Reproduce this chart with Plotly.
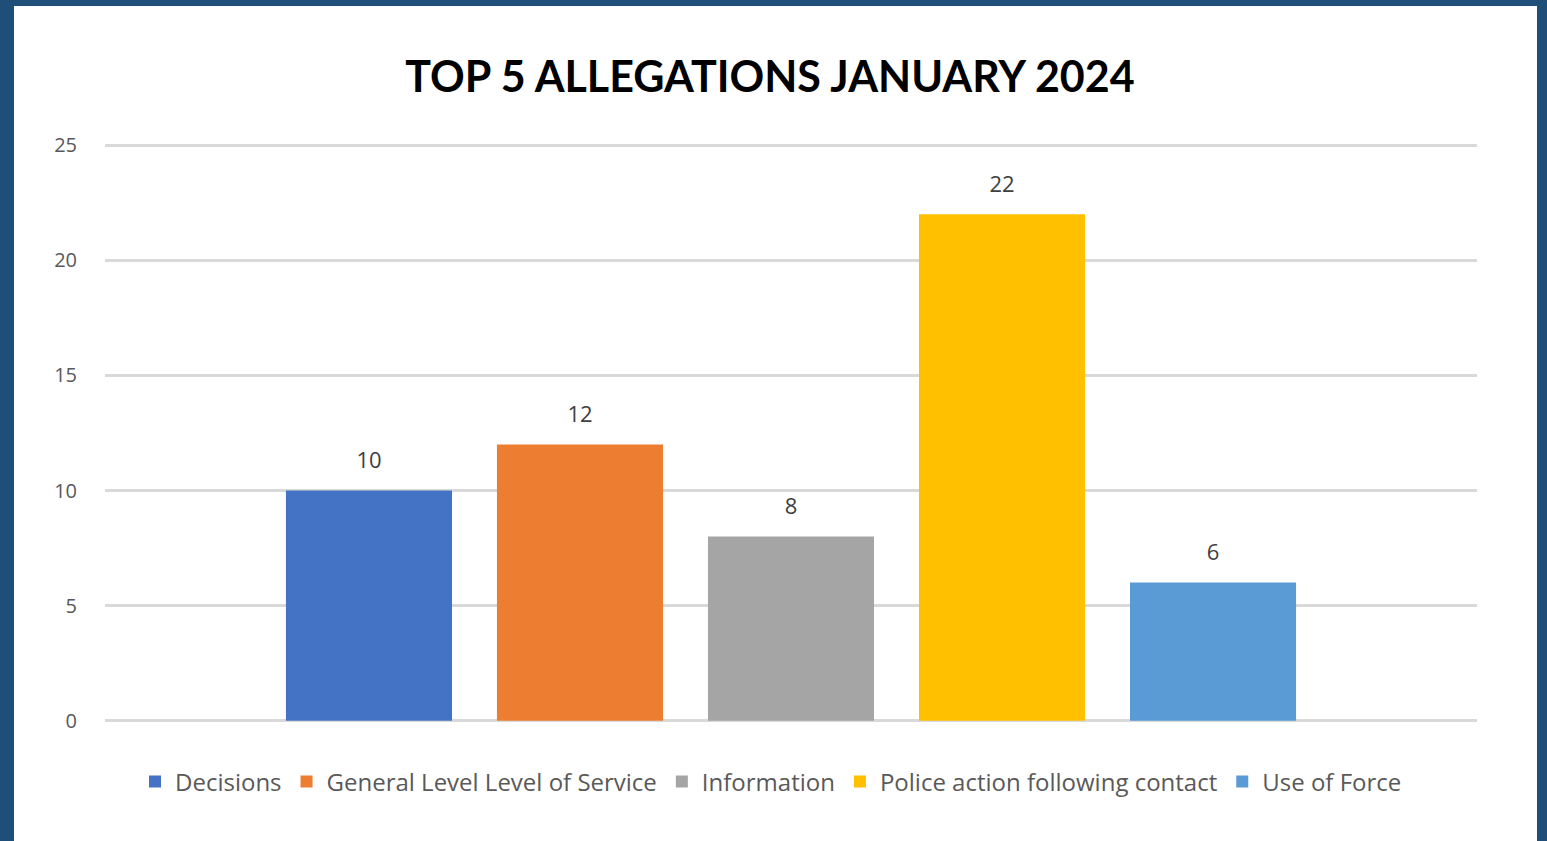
import plotly.graph_objects as go

series = ["Decisions", "General Level Level of Service", "Information",
          "Police action following contact", "Use of Force"]
values = [10, 12, 8, 22, 6]
colors = ["#4472C4", "#ED7D31", "#A5A5A5", "#FFC000", "#5B9BD5"]
category = ["Jan 2024"]
title = "TOP 5 ALLEGATIONS JANUARY 2024"
y_ticks = [0, 5, 10, 15, 20, 25]

TFONT = "Lato, Carlito, Calibri, sans-serif"
FONT = "Open Sans, sans-serif"

fig = go.Figure()
for i, (name, v, c) in enumerate(zip(series, values, colors)):
    fig.add_trace(go.Bar(
        x=category, y=[v], name=name, offsetgroup=str(i),
        marker=dict(color=c, line=dict(width=0)),
        hoverinfo="name+y",
    ))
for i, (name, v) in enumerate(zip(series, values)):
    fig.add_trace(go.Scatter(
        x=category, y=[v], offsetgroup=str(i), mode="markers+text",
        marker=dict(size=25, opacity=0), text=[str(v)],
        textposition="top center", showlegend=False, hoverinfo="skip",
        textfont=dict(size=22, color="#404040", family=FONT),
        cliponaxis=False,
    ))

W, H = 1547, 841
L, R, T, B = 105, 70, 143, 118
pw, ph = W - L - R, H - T - B

def px_x(p):
    return (p - L) / pw

def px_y(p):
    return (H - B - p) / ph

fig.update_layout(
    width=W, height=H, autosize=False,
    margin=dict(l=L, r=R, t=T, b=B),
    paper_bgcolor="#1F4E79",
    plot_bgcolor="white",
    barmode="group",
    scattermode="group",
    bargap=0.231,
    scattergap=0.231,
    bargroupgap=0.213,
    title=dict(text="<b>" + title + "</b>", x=770 / W,
               xanchor="center", y=1 - 77 / H, yanchor="middle",
               font=dict(size=43, color="#000000", family=TFONT)),
    font=dict(family=FONT, color="#595959"),
    showlegend=True,
    legend=dict(orientation="h", x=px_x(771), xanchor="center", y=px_y(782),
                yanchor="middle", bgcolor="white",
                font=dict(size=24, color="#595959", family=FONT),
                itemsizing="constant", traceorder="normal"),
    xaxis=dict(showticklabels=False, showgrid=False, zeroline=False,
               showline=False, ticks=""),
    yaxis=dict(range=[-0.1, 25.1], tickvals=y_ticks, showgrid=True,
               gridcolor="#D9D9D9", gridwidth=2.5, zeroline=False,
               showline=False, ticks="outside", ticklen=23, tickcolor="rgba(0,0,0,0)",
               tickfont=dict(size=20, color="#595959", family=FONT)),
    shapes=[dict(type="rect", xref="paper", yref="paper",
                 x0=px_x(14), x1=px_x(1537), y0=px_y(841), y1=px_y(6),
                 fillcolor="white", line=dict(width=0), layer="below")],
)

fig.write_html("out.html", config={"displayModeBar": False},
               post_script="document.body.style.margin='0';document.body.style.overflow='hidden';")
